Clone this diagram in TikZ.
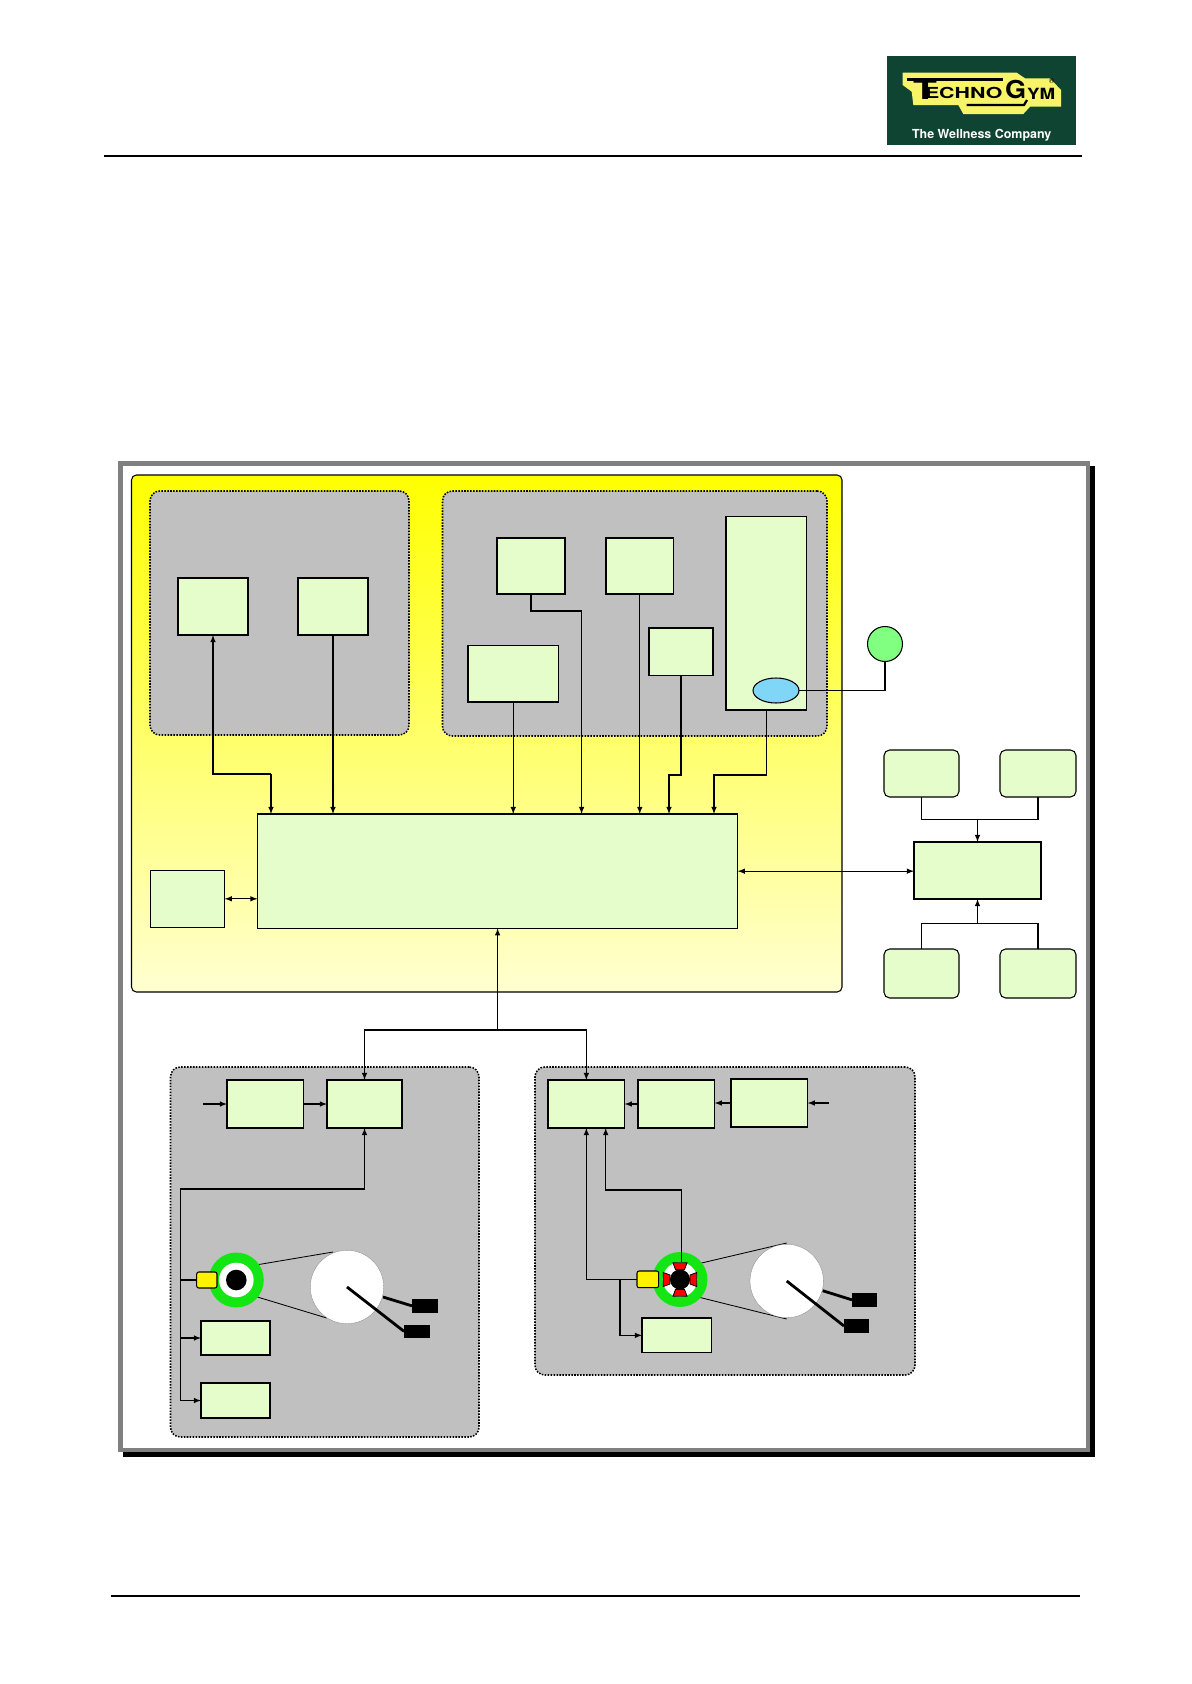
\documentclass[tikz,border=0pt]{standalone}
\usepackage{fontspec}
\usetikzlibrary{shapes.geometric}
\newfontfamily\logofont{TeX Gyre Heros}
\definecolor{boxgreen}{HTML}{E5FDCB}
\definecolor{panelgray}{HTML}{C0C0C0}
\definecolor{ringgreen}{HTML}{14E614}
\definecolor{logogreen}{HTML}{0F4433}
\definecolor{logoyellow}{HTML}{F8F46A}
\tikzset{
	size/.style 2 args={minimum width=#1*0.025cm, minimum height=#2*0.025cm},
	every node/.style={inner sep=0pt, outer sep=0pt},
	block/.style={draw, line width=0.75pt, fill=boxgreen},
	softblock/.style={block, rounded corners=4pt},
	panel/.style={draw, line width=1.1pt, dash pattern=on 1.1pt off 1pt, fill=panelgray, rounded corners=7pt},
	sensor/.style={draw, line width=0.75pt, fill=yellow, rounded corners=1.5pt},
	weight/.style={fill=black},
	pulley/.style={circle, draw=gray, line width=0.2pt, fill=white, minimum size=73.4*0.025cm},
	link/.style={line width=0.75pt, >=latex},
	belt/.style={line width=0.6pt},
	arm/.style={line width=2pt},
}
\begin{document}
\begin{tikzpicture}[x=0.025cm, y=-0.025cm]
	\useasboundingbox (0,0) rectangle (1191,1684);
	% header and footer
	\draw[line width=0.75pt] (104,156) -- (1081.5,156);
	\draw[line width=0.75pt] (110.6,1596) -- (1079.5,1596);
	\fill[logogreen] (887,56) rectangle (1075.7,144.7);
	\fill[logoyellow] (902.7,72.7) -- (1016.7,72.7) -- (1025,78.3) -- (1050,78.3) -- (1061,90) -- (1061,106.7) -- (1030,106.7) -- (1023.3,114) -- (963.3,114) -- (958.3,105) -- (913.3,105) -- (911.7,91.7) -- (902.7,85) -- cycle;
	\draw[line width=1.8pt] (906.7,79.3) -- (1003.3,79.3);
	\draw[line width=1.6pt] (966.7,105) -- (1024,105) -- (1027,100);
	\node[anchor=south west] (logoT) at (913,99.5) {\resizebox{17pt}{14pt}{\logofont\bfseries T}};
	\node[anchor=south west] (logoA) at (925,99) {\resizebox{55pt}{8pt}{\logofont\bfseries ECHNO}};
	\node[anchor=south west] (logoG) at (1005,99) {\resizebox{15pt}{13pt}{\logofont\bfseries G}};
	\node[anchor=south west] (logoB) at (1027,99) {\resizebox{20pt}{8pt}{\logofont\bfseries YM}};
	\node (logoR) at (1051.7,80.7) {\logofont\fontsize{5pt}{5pt}\selectfont ®};
	\node[white] (logoC) at (981.7,135.3) {\resizebox{99pt}{!}{\logofont\bfseries The Wellness Company}};
	% frame
	\fill (123,466) rectangle (1095,1457);
	\draw[line width=3.2pt, draw=gray, fill=white] (120.3,463.3) rectangle (1088,1450);
	% panels
	\node[draw, line width=0.75pt, rounded corners=3.5pt, top color=yellow, bottom color=yellow!18, size={710.5}{517}] (console) at (486.75,733.5) {};
	\node[panel, size={259}{244}] (panelA) at (279.5,613) {};
	\node[panel, size={384.5}{245}] (panelB) at (634.75,613.5) {};
	\node[panel, size={308.5}{370}] (panelC) at (324.75,1252) {};
	\node[panel, size={380}{308}] (panelD) at (725,1221) {};
	% blocks of the console
	\node[block, size={70}{57}] (inA) at (213,606.5) {};
	\node[block, size={70}{57}] (inB) at (333,606.5) {};
	\node[block, size={68}{56}] (inC) at (531,566) {};
	\node[block, size={67.5}{56}] (inD) at (639.75,566) {};
	\node[block, size={90.5}{56.5}] (inE) at (513.25,673.75) {};
	\node[block, size={64}{47.5}] (inF) at (681,651.75) {};
	\node[block, size={80.7}{193.5}] (tall) at (766.35,613.25) {};
	\node[draw, line width=0.75pt, ellipse, fill=cyan!50, size={46}{25}] (oval) at (776,690.5) {};
	\node[draw, line width=0.75pt, circle, fill=green!50, minimum size=35*0.025cm] (lamp) at (885,644) {};
	\node[block, size={480.2}{114.3}] (ctrl) at (497.6,871.15) {};
	\node[block, size={74.4}{57}] (mem) at (187.5,898.8) {};
	% blocks on the right
	\node[block, size={127}{57}] (hub) at (977.5,870.5) {};
	\node[softblock, size={75}{47}] (hubA) at (921.5,773.5) {};
	\node[softblock, size={76}{47}] (hubB) at (1038,773.5) {};
	\node[softblock, size={75}{49}] (hubC) at (921.5,973.5) {};
	\node[softblock, size={76}{49}] (hubD) at (1038,973.5) {};
	% lower left unit
	\node[block, size={76.7}{48}] (driveA) at (265.35,1104) {};
	\node[block, size={75}{48}] (driveB) at (364.5,1104) {};
	\node[block, size={69}{34}] (sideA) at (235.5,1338) {};
	\node[block, size={69}{35}] (sideB) at (235.5,1400.5) {};
	% lower right unit
	\node[block, size={76.7}{48}] (driveC) at (586.35,1104) {};
	\node[block, size={76.7}{48}] (driveD) at (676.35,1104) {};
	\node[block, size={76.7}{48}] (driveE) at (769.35,1103) {};
	\node[block, size={69.7}{34.7}] (sideC) at (676.85,1335.35) {};
	% belts
	\draw[belt] (238,1268) -- (333,1252);
	\draw[belt] (236.7,1290.7) -- (326.7,1318);
	\draw[belt] (693,1265) -- (786.7,1243);
	\draw[belt] (690,1295) -- (786.7,1319);
	% motors
	\foreach \name/\cx/\cy in {motorL/236.3/1280, motorR/680/1279.5} {
		\node[circle, fill=ringgreen, minimum size=55*0.025cm] (\name) at (\cx,\cy) {};
		\node[circle, fill=white, minimum size=34.6*0.025cm] (\name-in) at (\cx,\cy) {};
	}
	\begin{scope}[shift={(680,1279.5)}]
		\foreach \a in {0,90,180,270}
			\draw[rotate=\a, fill=red, line width=0.6pt] (-7,-16.7) -- (7,-16.7) -- (4.5,-10) -- (-4.5,-10) -- cycle;
	\end{scope}
	\fill (236.3,1280) circle (10.3);
	\fill (680,1279.5) circle (10);
	\node[sensor, size={20.3}{16}] (sensL) at (206.85,1280) {};
	\node[sensor, size={21.7}{16.7}] (sensR) at (647.85,1279.35) {};
	% flywheels and weights
	\node[pulley] (wheelL) at (347,1287) {};
	\node[pulley] (wheelR) at (786.7,1281) {};
	\node[weight, size={26}{12.7}] (stopA) at (417,1331.35) {};
	\node[weight, size={25.7}{13.7}] (stopB) at (424.85,1305.85) {};
	\node[weight, size={25}{14}] (stopC) at (856.5,1326) {};
	\node[weight, size={25}{13.7}] (stopD) at (864.5,1299.85) {};
	\draw[arm] (wheelL.center) -- (stopA.west);
	\draw[arm] (383,1297) -- (stopB.west);
	\draw[arm] (wheelR.center) -- (stopC.west);
	\draw[arm] (822.7,1290.7) -- (stopD.west);
	% connectors of the console
	\coordinate (kneeA) at (271,774);
	\coordinate (kneeC) at (581.6,611);
	\coordinate (kneeF) at (669,775);
	\coordinate (kneeT) at (714,775);
	\draw[link, ->] (kneeA) -- (kneeA |- ctrl.north);
	\draw[link, ->] (kneeA) -| (inA.south);
	\draw[link, ->] (inB.south) -- (inB.south |- ctrl.north);
	\draw[link, ->] (inE.south) -- (inE.south |- ctrl.north);
	\draw[link, ->] (inC.south) |- (kneeC) -- (kneeC |- ctrl.north);
	\draw[link, ->] (inD.south) -- (inD.south |- ctrl.north);
	\draw[link, ->] (inF.south) |- (kneeF) -- (kneeF |- ctrl.north);
	\draw[link, ->] (tall.south) |- (kneeT) -- (kneeT |- ctrl.north);
	\draw[link] (oval.east) -| (lamp.south);
	\draw[link, <->] (mem.east) -- (mem.east -| ctrl.west);
	\draw[link, <->] (ctrl.east) -- (ctrl.east -| hub.west);
	% connectors on the right
	\coordinate (joinT) at (977.5,819.5);
	\coordinate (joinB) at (977.5,923.6);
	\draw[link] (hubA.south) |- (joinT) -| (hubB.south);
	\draw[link, ->] (joinT) -- (hub.north);
	\draw[link] (hubC.north) |- (joinB) -| (hubD.north);
	\draw[link, ->] (joinB) -- (hub.south);
	% bus
	\coordinate (fork) at (497.6,1030);
	\draw[link, ->] (fork) -- (ctrl.south);
	\draw[link, ->] (fork) -| (driveB.north);
	\draw[link, ->] (fork) -| (driveC.north);
	% connectors of the lower left unit
	\coordinate (startL) at (203,1104);
	\coordinate (cornerL) at (180.7,1189);
	\draw[link, ->] (startL) -- (driveA.west);
	\draw[link, ->] (driveA.east) -- (driveB.west);
	\draw[link, <->] (sideB.west) -| (cornerL) -| (driveB.south);
	\draw[link] (sensL.west) -- (sensL.west -| cornerL);
	\draw[link, ->] (sideA.west -| cornerL) -- (sideA.west);
	% connectors of the lower right unit
	\coordinate (startR) at (829,1103);
	\coordinate (cornerR) at (605.7,1190);
	\coordinate (branchR) at (620,1279.35);
	\draw[link, ->] (startR) -- (driveE.east);
	\draw[link, ->] (driveE.west) -- (driveE.west -| driveD.east);
	\draw[link, ->] (driveD.west) -- (driveC.east);
	\draw[link, ->] (sensR.west) -| (driveC.south);
	\draw[link, ->] (branchR) |- (sideC.west);
	\draw[link, ->] (681.7,1262) |- (cornerR) -- (cornerR |- driveC.south);
\end{tikzpicture}
\end{document}
